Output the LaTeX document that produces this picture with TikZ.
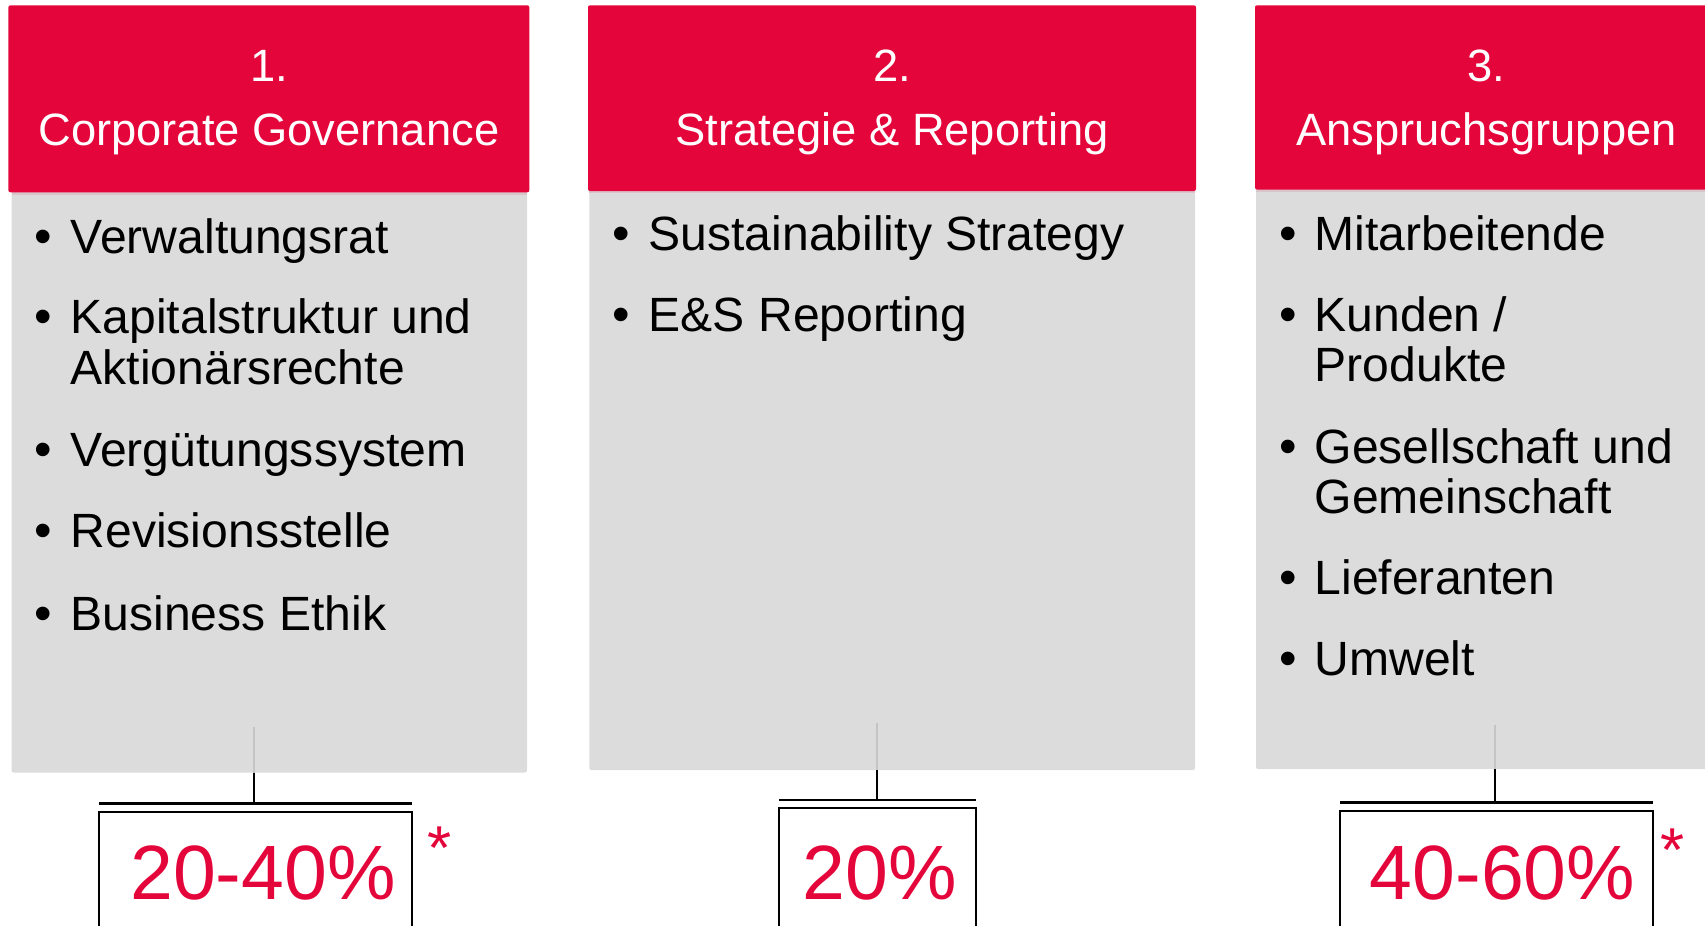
\documentclass[tikz,border=0pt]{standalone}
\usepackage{fontspec}
\setmainfont{Liberation Sans}
\definecolor{cred}{HTML}{E4063B}
\definecolor{cgrey}{HTML}{DCDCDC}
\definecolor{cband}{HTML}{D9C4CA}
\definecolor{cfaint}{HTML}{C4C4C4}
\tikzset{
  hdr/.style={fill=cred, draw=none, rounded corners=2pt, inner sep=0pt, outer sep=0pt, anchor=north west},
  bodybox/.style={fill=cgrey, draw=none, rounded corners=2pt, inner sep=0pt, outer sep=0pt, anchor=north west},
  band/.style={fill=cband, draw=none, inner sep=0pt, outer sep=0pt, anchor=north west, minimum height=3pt},
  htext/.style={text=white, font=\fontsize{45.3}{54}\selectfont, anchor=base, inner sep=0pt},
  itext/.style={font=\fontsize{48.1}{51}\selectfont, anchor=base west, inner sep=0pt},
  bul/.style={font=\fontsize{50}{51}\selectfont, anchor=base, inner sep=0pt},
  pct/.style={text=cred, font=\fontsize{77}{80}\selectfont, anchor=base, inner sep=0pt},
  star/.style={text=cred, font=\fontsize{62}{64}\selectfont, anchor=base, inner sep=0pt},
  pbox/.style={draw=black, line width=2.2pt, inner sep=0pt, outer sep=0pt, anchor=north west},
  barline/.style={line width=2.6pt},
  conn/.style={line width=2pt},
  faint/.style={draw=cfaint, line width=2pt},
}
\begin{document}
\begin{tikzpicture}[x=1pt,y=-1pt]
\useasboundingbox (0,0) rectangle (1705,926);
\clip (0,0) rectangle (1705,926);

% ---------- column 1 ----------
\node[bodybox, minimum width=515.5pt, minimum height=582pt] (g1) at (11.5,190.5) {};
\node[band, minimum width=515.5pt] (k1) at (11.5,191.5) {};
\node[hdr, minimum width=520.9pt, minimum height=187pt] (h1) at (8.4,5.3) {};
\node[htext] (h1a) at (268.9,81) {1.};
\node[htext] (h1b) at (268.9,145.7) {Corporate Governance};

\node[bul] (b11) at (43.3,253) {•};
\node[itext] (t11) at (70.5,253) {Verwaltungsrat};
\node[bul] (b12) at (43.3,333) {•};
\node[itext] (t12) at (70.5,333) {Kapitalstruktur und};
\node[itext] (t12b) at (70.5,384) {Aktionärsrechte};
\node[bul] (b13) at (43.3,466.5) {•};
\node[itext] (t13) at (70.5,466.5) {Vergütungssystem};
\node[bul] (b14) at (43.3,547) {•};
\node[itext] (t14) at (70.5,547) {Revisionsstelle};
\node[bul] (b15) at (43.3,630) {•};
\node[itext] (t15) at (70.5,630) {Business Ethik};

% ---------- column 2 ----------
\node[bodybox, minimum width=605.7pt, minimum height=581.5pt] (g2) at (589.3,188.5) {};
\node[band, minimum width=605.7pt] (k2) at (589.3,189.5) {};
\node[hdr, minimum width=608pt, minimum height=185.7pt] (h2) at (588,5.3) {};
\node[htext] (h2a) at (892,81) {2.};
\node[htext] (h2b) at (892,145.7) {Strategie \& Reporting};

\node[bul] (b21) at (621,250) {•};
\node[itext] (t21) at (648.5,250) {Sustainability Strategy};
\node[bul] (b22) at (621,331.5) {•};
\node[itext] (t22) at (648.5,331.5) {E\&S Reporting};

% ---------- column 3 ----------
\node[bodybox, minimum width=470pt, minimum height=581.5pt] (g3) at (1256,187.5) {};
\node[band, minimum width=470pt] (k3) at (1256,188.5) {};
\node[hdr, minimum width=463pt, minimum height=184.2pt] (h3) at (1255,5.3) {};
\node[htext] (h3a) at (1486.5,81) {3.};
\node[htext] (h3b) at (1486.5,145.7) {Anspruchsgruppen};

\node[bul] (b31) at (1288.3,250) {•};
\node[itext] (t31) at (1314.5,250) {Mitarbeitende};
\node[bul] (b32) at (1288.3,331.5) {•};
\node[itext] (t32) at (1314.5,331.5) {Kunden /};
\node[itext] (t32b) at (1314.5,381.5) {Produkte};
\node[bul] (b33) at (1288.3,463) {•};
\node[itext] (t33) at (1314.5,463) {Gesellschaft und};
\node[itext] (t33b) at (1314.5,513) {Gemeinschaft};
\node[bul] (b34) at (1288.3,594) {•};
\node[itext] (t34) at (1314.5,594) {Lieferanten};
\node[bul] (b35) at (1288.3,675) {•};
\node[itext] (t35) at (1314.5,675) {Umwelt};

% ---------- bottom: connectors, bars, percentage boxes ----------
% column 1
\coordinate (c1) at (253.7,726.7);
\coordinate (bar1l) at (99,803.3);
\coordinate (bar1r) at (412,803.3);
\draw[faint] (c1) -- (c1 |- g1.south);
\draw[conn] (c1 |- g1.south) -- (c1 |- bar1l);
\draw[barline] (bar1l) -- (bar1r);
\node[pbox, minimum width=313pt, minimum height=160pt] (p1) at (99,812.3) {};
\node[pct] (v1) at (263,899) {20-40\%};
\node[star] (s1) at (440,869) {*};

% column 2
\coordinate (c2) at (876.7,723.3);
\coordinate (bar2l) at (779.3,800);
\coordinate (bar2r) at (976,800);
\draw[faint] (c2) -- (c2 |- g2.south);
\draw[conn] (c2 |- g2.south) -- (c2 |- bar2l);
\draw[barline] (bar2l) -- (bar2r);
\node[pbox, minimum width=196.7pt, minimum height=160pt] (p2) at (779.3,808.3) {};
\node[pct] (v2) at (880,899) {20\%};

% column 3
\coordinate (c3) at (1495,725);
\coordinate (bar3l) at (1340,802.3);
\coordinate (bar3r) at (1652.7,802.3);
\draw[faint] (c3) -- (c3 |- g3.south);
\draw[conn] (c3 |- g3.south) -- (c3 |- bar3l);
\draw[barline] (bar3l) -- (bar3r);
\node[pbox, minimum width=312.7pt, minimum height=160pt] (p3) at (1340,810.7) {};
\node[pct] (v3) at (1502.5,899) {40-60\%};
\node[star] (s3) at (1673,871) {*};
\end{tikzpicture}
\end{document}
